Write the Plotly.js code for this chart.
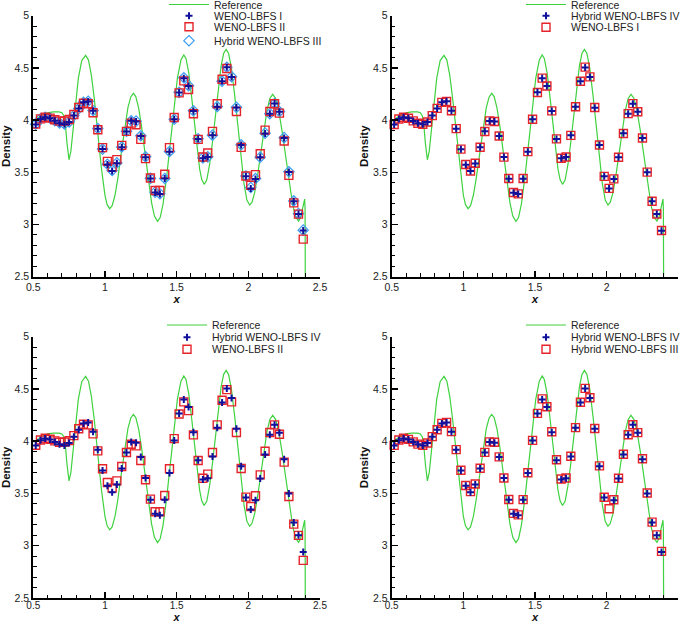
<!DOCTYPE html>
<html>
<head>
<meta charset="utf-8">
<script src="https://cdn.plot.ly/plotly-3.0.1.min.js"></script>
<style>html,body{margin:0;padding:0;background:#fff;}#chart{width:685px;height:624px;}</style>
</head>
<body>
<div id="chart"></div>
<script>
// ---- Data ----
const refX = [0.50,0.53,0.56,0.60,0.64,0.68,0.70,0.714,0.725,0.735,
  0.749,0.762,0.779,0.796,0.814,0.838,0.865,0.885,0.905,0.925,
  0.95,0.975,1.00,1.015,1.033,1.05,1.07,1.09,1.115,1.14,
  1.16,1.18,1.198,1.215,1.235,1.255,1.28,1.305,1.325,1.345,
  1.367,1.385,1.405,1.43,1.455,1.48,1.505,1.53,1.55,1.565,
  1.585,1.605,1.62,1.64,1.66,1.675,1.692,1.71,1.73,1.75,
  1.77,1.79,1.81,1.828,1.845,1.862,1.882,1.905,1.927,1.95,
  1.97,1.99,2.009,2.025,2.045,2.065,2.09,2.11,2.13,2.15,
  2.17,2.19,2.21,2.235,2.26,2.285,2.31,2.33,2.351,2.365,
  2.378,2.388,2.393,2.396,2.398,2.40,2.45,2.5];
const refY = [3.99,4.02,4.045,4.07,4.078,4.078,4.07,4.04,3.94,3.78,
  3.62,3.70,3.92,4.15,4.40,4.57,4.62,4.575,4.43,4.21,
  3.88,3.54,3.28,3.19,3.152,3.18,3.28,3.445,3.70,3.955,
  4.12,4.222,4.256,4.226,4.115,3.94,3.675,3.395,3.21,3.08,
  3.03,3.067,3.195,3.455,3.78,4.11,4.40,4.575,4.624,4.59,
  4.45,4.215,4.015,3.75,3.535,3.43,3.385,3.425,3.575,3.79,
  4.055,4.305,4.52,4.64,4.678,4.64,4.50,4.235,3.933,3.615,
  3.39,3.235,3.187,3.212,3.31,3.473,3.722,3.925,4.092,4.208,
  4.247,4.21,4.105,3.90,3.645,3.393,3.182,3.073,3.033,3.07,
  3.16,3.225,3.244,3.15,2.6,1.2,1.1,1.05];

const cellX = [0.517,0.55,0.583,0.617,0.65,0.683,0.717,0.75,0.783,0.817,
  0.85,0.883,0.917,0.95,0.983,1.017,1.05,1.083,1.117,1.15,
  1.183,1.217,1.25,1.283,1.317,1.35,1.383,1.417,1.45,1.483,
  1.517,1.55,1.583,1.617,1.65,1.683,1.717,1.75,1.783,1.817,
  1.85,1.883,1.917,1.95,1.983,2.017,2.05,2.083,2.117,2.15,
  2.183,2.217,2.25,2.283,2.317,2.35,2.383];

const wenoI = [3.958,4.01,4.027,4.018,3.993,3.97,3.96,3.982,4.043,4.112,
  4.17,4.178,4.09,3.918,3.722,3.575,3.512,3.587,3.74,3.891,
  3.993,3.987,3.848,3.645,3.44,3.306,3.293,3.44,3.698,4.008,
  4.265,4.402,4.327,4.088,3.82,3.635,3.647,3.854,4.128,4.372,
  4.507,4.414,4.12,3.761,3.461,3.346,3.437,3.644,3.872,4.062,
  4.158,4.08,3.828,3.502,3.223,3.101,2.942];

const wenoII = [3.962,4.012,4.028,4.019,4.003,3.99,3.992,4.006,4.054,4.12,
  4.162,4.156,4.07,3.908,3.736,3.605,3.551,3.621,3.758,3.892,
  3.971,3.955,3.815,3.631,3.446,3.325,3.325,3.481,3.736,4.025,
  4.261,4.376,4.293,4.061,3.815,3.646,3.685,3.892,4.156,4.392,
  4.494,4.376,4.083,3.739,3.465,3.376,3.478,3.678,3.904,4.083,
  4.156,4.067,3.80,3.471,3.207,3.099,2.86];

const hybridIII = [3.96,4.012,4.028,4.018,3.994,3.972,3.962,3.983,4.044,4.11,
  4.171,4.18,4.092,3.92,3.722,3.577,3.518,3.59,3.742,3.893,
  3.994,3.99,3.85,3.648,3.442,3.31,3.295,3.441,3.699,4.008,
  4.266,4.405,4.33,4.09,3.822,3.638,3.648,3.856,4.13,4.373,
  4.506,4.416,4.122,3.764,3.464,3.354,3.44,3.645,3.875,4.062,
  4.158,4.082,3.832,3.505,3.226,3.104,2.946];

const hybridIV = [3.959,4.01,4.027,4.017,3.992,3.97,3.96,3.982,4.043,4.11,
  4.17,4.18,4.09,3.918,3.72,3.573,3.512,3.585,3.74,3.893,
  3.992,3.986,3.848,3.647,3.439,3.305,3.292,3.439,3.697,4.007,
  4.266,4.40,4.327,4.087,3.819,3.634,3.646,3.854,4.129,4.371,
  4.505,4.413,4.119,3.761,3.461,3.346,3.436,3.643,3.873,4.061,
  4.157,4.08,3.828,3.50,3.222,3.101,2.941];
// in the lower-right panel the Hybrid IV cross at x = 2.017 is not drawn
const panel4MissingIndex = 45;

const xTickVals = [0.5,1,1.5,2,2.5];
const yTickVals = [2.5,3,3.5,4,4.5,5];

// ---- Styles ----
const W = 685, H = 624, BOT = 20, PH = H - BOT;
const FONT = 'Liberation Sans, Arial, Helvetica, sans-serif';
const refLine = {color:'#3fd23f', width:1.2};
const plusMarker = {symbol:'cross-thin', size:5, color:'#10109c', line:{color:'#10109c', width:2}};
const squareMarker = {symbol:'square-open', size:8, color:'#e5232a', line:{color:'#e5232a', width:1.4}};
const diamondMarker = {symbol:'diamond-open', size:8, color:'#3a9df5', line:{color:'#3a9df5', width:1.2}};

function refTrace(ax, leg) {
  return {x: refX, y: refY, xaxis:'x'+ax, yaxis:'y'+ax, mode:'lines', line: refLine,
          name:'Reference', legend: leg, hoverinfo:'skip'};
}
function mk(ax, leg, name, ys, marker) {
  return {x: cellX, y: ys, xaxis:'x'+ax, yaxis:'y'+ax, mode:'markers', marker: marker,
          name: name, legend: leg, cliponaxis:false};
}

const hybridIVpanel4 = hybridIV.map((v,i) => i === panel4MissingIndex ? null : v);

const data = [
  refTrace('', 'legend'),
  mk('', 'legend4', 'Hybrid WENO-LBFS III', hybridIII, diamondMarker),
  mk('', 'legend3', 'WENO-LBFS II', wenoII, squareMarker),
  mk('', 'legend2', 'WENO-LBFS I', wenoI, plusMarker),

  refTrace('2', 'legend5'),
  mk('2', 'legend7', 'WENO-LBFS I', wenoI, squareMarker),
  mk('2', 'legend6', 'Hybrid WENO-LBFS IV', hybridIV, plusMarker),

  refTrace('3', 'legend8'),
  mk('3', 'legend10', 'WENO-LBFS II', wenoII, squareMarker),
  mk('3', 'legend9', 'Hybrid WENO-LBFS IV', hybridIV, plusMarker),

  refTrace('4', 'legend11'),
  mk('4', 'legend13', 'Hybrid WENO-LBFS III', hybridIII, squareMarker),
  mk('4', 'legend12', 'Hybrid WENO-LBFS IV', hybridIVpanel4, plusMarker)
];

function xAxis(x0, x1, anchor, bottomRow) {
  return {domain:[x0/W, x1/W], anchor: anchor, range:[0.5,2.5], tickvals: xTickVals,
    ticks:'inside', ticklen:6, tickwidth:1.5, tickcolor:'#000',
    ticklabelstandoff: bottomRow ? -3 : 0,
    showline:true, linecolor:'#000', linewidth:2, showgrid:false, zeroline:false,
    tickfont:{family:FONT, size: bottomRow ? 10 : 10.5, color:'#222'},
    minor:{dtick:0.1, tick0:0.5, ticks:'inside', ticklen:3.5, tickwidth:1, tickcolor:'#000', showgrid:false},
    title:{text:'x', font:{family:FONT, size: bottomRow ? 11 : 11.5, weight:'bold', style:'italic', color:'#111'},
           standoff: bottomRow ? 3 : 1}};
}
function yAxis(y0, y1, anchor) {
  return {domain:[1 - y1/PH, 1 - y0/PH], anchor: anchor, range:[2.5,5], tickvals: yTickVals,
    ticks:'inside', ticklen:6, tickwidth:1.5, tickcolor:'#000',
    showline:true, linecolor:'#000', linewidth:2, showgrid:false, zeroline:false,
    tickfont:{family:FONT, size:10.5, color:'#222'},
    minor:{dtick:0.1, tick0:2.5, ticks:'inside', ticklen:3.5, tickwidth:1, tickcolor:'#000', showgrid:false},
    title:{text:'Density', font:{family:FONT, size:11.5, weight:'bold', color:'#111'}, standoff:2}};
}
function leg(px, py) {
  return {x: px/W, y: 1 - py/PH, xanchor:'left', yanchor:'middle', bgcolor:'rgba(0,0,0,0)',
    borderwidth:0, font:{family:FONT, size:10.5, color:'#222'}, itemwidth:40, tracegroupgap:0};
}

// legend origins (text starts ~50 px to the right)
const L1 = 164, L2 = 521, L3 = 162, L4 = 521;
const layout = {
  width: W, height: H, margin:{l:0, r:0, t:0, b:BOT, autoexpand:false},
  paper_bgcolor:'#fff', plot_bgcolor:'#fff', showlegend:true,
  xaxis: xAxis(33.3, 320, 'y', false),   yaxis: yAxis(15.7, 276.7, 'x'),
  xaxis2: xAxis(391.7, 678.3, 'y2', false), yaxis2: yAxis(15.7, 276.7, 'x2'),
  xaxis3: xAxis(33.3, 320, 'y3', true),  yaxis3: yAxis(336.7, 598, 'x3'),
  xaxis4: xAxis(391.7, 678.3, 'y4', true), yaxis4: yAxis(336.7, 598, 'x4'),
  legend: leg(L1, 4.5), legend2: leg(L1, 15.7), legend3: leg(L1, 26.7), legend4: leg(L1, 40.7),
  legend5: leg(L2, 4.5), legend6: leg(L2, 15.7), legend7: leg(L2, 27.3),
  legend8: leg(L3, 325), legend9: leg(L3, 337.3), legend10: leg(L3, 349.3),
  legend11: leg(L4, 325), legend12: leg(L4, 337.3), legend13: leg(L4, 349.3)
};

Plotly.newPlot('chart', data, layout, {staticPlot:true, displayModeBar:false});
</script>
</body>
</html>
